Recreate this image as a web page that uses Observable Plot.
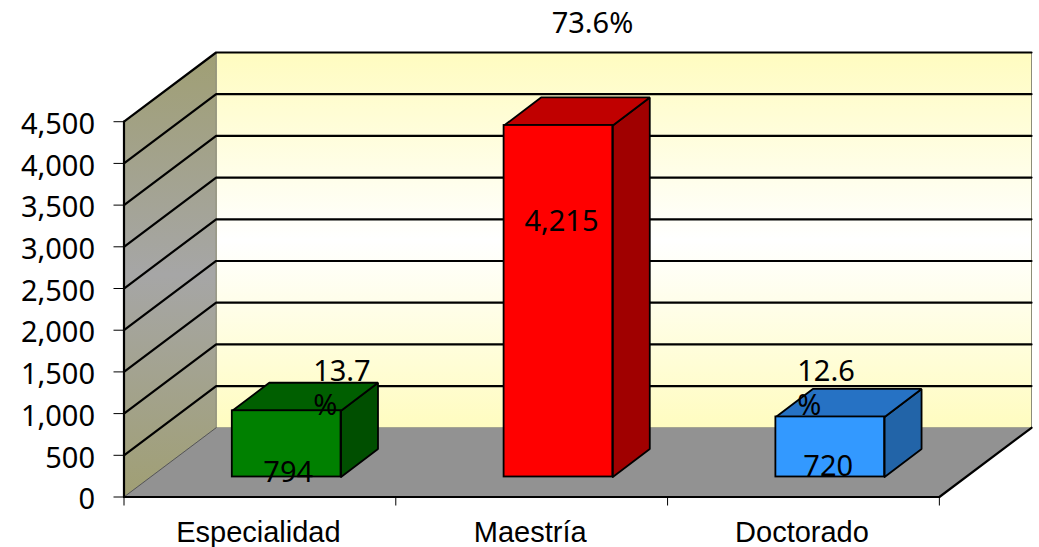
<!DOCTYPE html>
<html>
<head>
<meta charset="utf-8">
<script src="https://cdn.jsdelivr.net/npm/d3@7"></script>
<script src="https://cdn.jsdelivr.net/npm/@observablehq/plot@0.6"></script>
<style>
html,body{margin:0;padding:0;background:#fff}
svg{display:block}
</style>
</head>
<body>
<div id="chart"></div>
<script>
const categories = ["Especialidad", "Maestría", "Doctorado"];
const values = [794, 4215, 720];
const valueLabels = ["794", "4,215", "720"];
const percentLabels = ["13.7\n%", "73.6%", "12.6\n%"];
const yTicks = [0, 500, 1000, 1500, 2000, 2500, 3000, 3500, 4000, 4500];
const frontFills = ["#008000", "#ff0000", "#3399ff"];
const topFills = ["#005f00", "#c00000", "#2672c4"];
const sideFills = ["#004f00", "#a00000", "#2264a8"];

// Oblique projection: depth expressed in the units of each scale
const wallDX = 0.339, wallDY = 830;
const barDX = 0.136, barDY = 336;
const baseDX = 0.0985, baseDY = 240;
const barW = 0.4;
const tickFont = '"Noto Sans"';

const poly = (pts, opts) => Plot.line([...pts, pts[0]], {x: d => d[0], y: d => d[1], ...opts});
const seg = (pts, opts) => Plot.line(pts, {x: d => d[0], y: d => d[1], stroke: "#000", strokeWidth: 2.2, ...opts});

const defs = () => {
  const ns = "http://www.w3.org/2000/svg";
  const d = document.createElementNS(ns, "defs");
  d.innerHTML = `
  <linearGradient id="backWall" x1="0" y1="0" x2="0" y2="1">
    <stop offset="0" stop-color="#fffcc0"/><stop offset="0.5" stop-color="#ffffff"/><stop offset="1" stop-color="#fffcc0"/>
  </linearGradient>
  <linearGradient id="sideWall" x1="0" y1="0" x2="0" y2="1">
    <stop offset="0" stop-color="#a09f74"/><stop offset="0.5" stop-color="#a6a6a6"/><stop offset="1" stop-color="#a09f74"/>
  </linearGradient>`;
  return d;
};

const wallTop = 4500 + wallDY;
const marks = [
  defs,
  // walls and floor
  poly([[wallDX, wallDY], [3 + wallDX, wallDY], [3 + wallDX, wallTop], [wallDX, wallTop]], {fill: "url(#backWall)", stroke: "#8d8d78", strokeWidth: 1}),
  poly([[0, 0], [wallDX, wallDY], [wallDX, wallTop], [0, 4500]], {fill: "url(#sideWall)", stroke: "#8d8d78", strokeWidth: 1}),
  poly([[0, 0], [3, 0], [3 + wallDX, wallDY], [wallDX, wallDY]], {fill: "#929292", stroke: "none"}),
  // gridlines on both walls
  ...yTicks.filter(v => v > 0).map(v => seg([[0, v], [wallDX, v + wallDY], [3 + wallDX, v + wallDY]])),
  seg([[0, 0], [wallDX, wallDY]], {stroke: "#555", strokeWidth: 1}),
  seg([[0, 0], [0, 4500]]),
  seg([[0, 0], [3, 0], [3 + wallDX, wallDY]])
];

categories.forEach((c, i) => {
  const x0 = i + 0.5 - barW / 2 + baseDX, x1 = x0 + barW;
  const y0 = baseDY, y1 = baseDY + values[i];
  const s = {stroke: "#000", strokeWidth: 1.8, strokeLinejoin: "miter"};
  marks.push(
    poly([[x1, y0], [x1 + barDX, y0 + barDY], [x1 + barDX, y1 + barDY], [x1, y1]], {fill: sideFills[i], ...s}),
    poly([[x0, y1], [x1, y1], [x1 + barDX, y1 + barDY], [x0 + barDX, y1 + barDY]], {fill: topFills[i], ...s}),
    Plot.rect([0], {x1: x0, x2: x1, y1: y0, y2: y1, fill: frontFills[i], ...s})
  );
});

// Label offsets from the top-centre of each bar's front face
const valueOffsets = [[1.5, 60], [3, 95], [-2, 48]];
const percentOffsets = [[26.5, -24, "start"], [34, -103, "middle"], [-33, -30, "start"]];
const labelStyle = {fontSize: 29, fill: "#000", fontFamily: tickFont, lineHeight: 1.17, lineAnchor: "middle", stroke: "none"};
categories.forEach((c, i) => {
  const cx = i + 0.5 + baseDX, cy = baseDY + values[i];
  marks.push(
    Plot.text([valueLabels[i]], {x: () => cx, y: () => cy, text: d => d, dx: valueOffsets[i][0], dy: valueOffsets[i][1], ...labelStyle}),
    Plot.text([percentLabels[i]], {x: () => cx, y: () => cy, text: d => d, dx: percentOffsets[i][0], dy: percentOffsets[i][1], textAnchor: percentOffsets[i][2], ...labelStyle})
  );
});

// Axes
marks.push(
  Plot.axisY({anchor: "left", ticks: yTicks, tickFormat: () => "", tickSize: 10, label: null, strokeWidth: 1}),
  Plot.text(yTicks, {x: () => 0, y: d => d, text: d3.format(","), dx: -29, dy: 3, textAnchor: "end", fontSize: 29, fontFamily: tickFont, fill: "#000"}),
  Plot.axisX({anchor: "bottom", ticks: [0, 1, 2, 3], tickFormat: () => "", tickSize: 9, label: null, strokeWidth: 1}),
  Plot.axisX({anchor: "bottom", ticks: categories.map((c, i) => i + 0.5), tickFormat: d => categories[d - 0.5], tickSize: 0, tickPadding: 24, dx: -1.5, fontSize: 29, fontFamily: '"Liberation Sans"', label: null, color: "#000"})
);

const plot = Plot.plot({
  width: 1039,
  height: 547,
  marginLeft: 123.5,
  marginRight: 8,
  marginTop: 52,
  marginBottom: 50.5,
  x: {domain: [0, 3 + wallDX]},
  y: {domain: [0, wallTop]},
  style: {background: "#fff", overflow: "visible"},
  marks
});
document.getElementById("chart").append(plot);
</script>
</body>
</html>
